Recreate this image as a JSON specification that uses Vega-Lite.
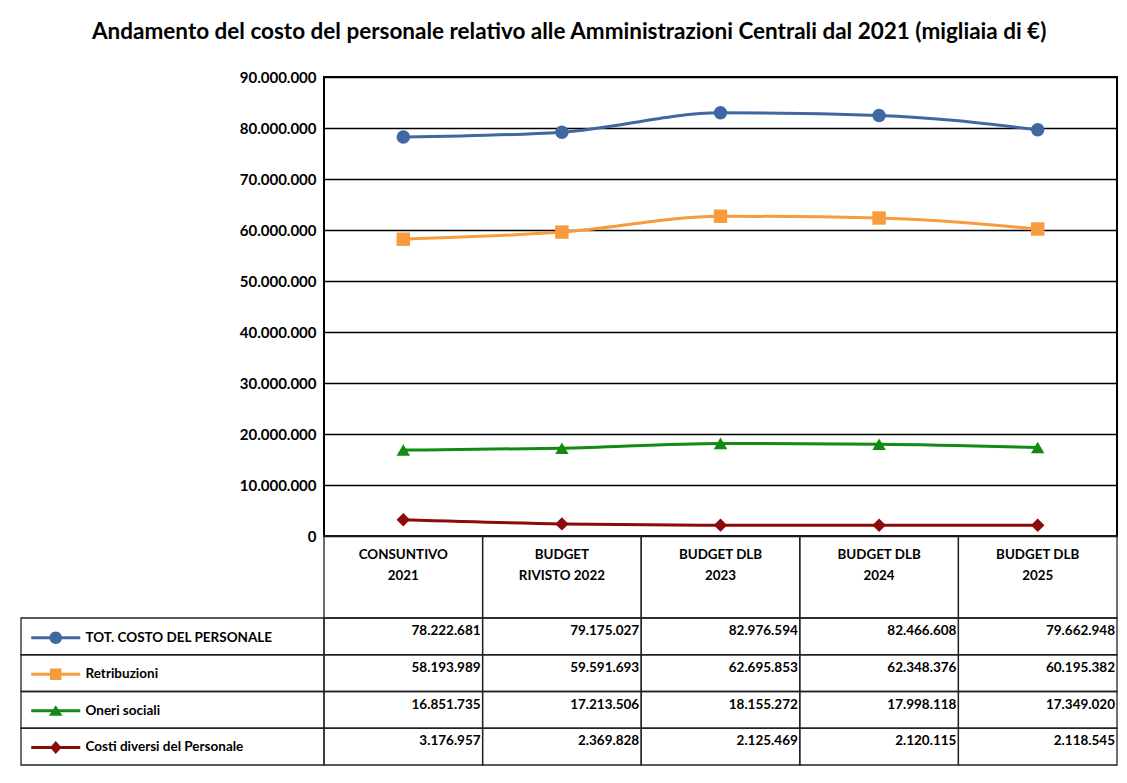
{
  "$schema": "https://vega.github.io/schema/vega-lite/v6.json",
  "padding": {"left": 20, "top": 20, "right": 5, "bottom": 5},
  "background": "white",
  "config": {
    "locale": {"number": {"decimal": ",", "thousands": ".", "grouping": [3], "currency": ["", " €"]}},
    "font": "Lato",
    "view": {"stroke": null}
  },
  "title": {
    "text": "Andamento del costo del personale relativo alle Amministrazioni Centrali dal 2021 (migliaia di €)",
    "fontSize": 22.5, "fontWeight": "bold", "font": "Lato", "color": "black", "anchor": "middle", "offset": 26
  },
  "datasets": {
    "costi": [
      {"cat": "CONSUNTIVO\n2021", "series": "TOT. COSTO DEL PERSONALE", "value": 78222681},
      {"cat": "BUDGET\nRIVISTO 2022", "series": "TOT. COSTO DEL PERSONALE", "value": 79175027},
      {"cat": "BUDGET DLB\n2023", "series": "TOT. COSTO DEL PERSONALE", "value": 82976594},
      {"cat": "BUDGET DLB\n2024", "series": "TOT. COSTO DEL PERSONALE", "value": 82466608},
      {"cat": "BUDGET DLB\n2025", "series": "TOT. COSTO DEL PERSONALE", "value": 79662948},
      {"cat": "CONSUNTIVO\n2021", "series": "Retribuzioni", "value": 58193989},
      {"cat": "BUDGET\nRIVISTO 2022", "series": "Retribuzioni", "value": 59591693},
      {"cat": "BUDGET DLB\n2023", "series": "Retribuzioni", "value": 62695853},
      {"cat": "BUDGET DLB\n2024", "series": "Retribuzioni", "value": 62348376},
      {"cat": "BUDGET DLB\n2025", "series": "Retribuzioni", "value": 60195382},
      {"cat": "CONSUNTIVO\n2021", "series": "Oneri sociali", "value": 16851735},
      {"cat": "BUDGET\nRIVISTO 2022", "series": "Oneri sociali", "value": 17213506},
      {"cat": "BUDGET DLB\n2023", "series": "Oneri sociali", "value": 18155272},
      {"cat": "BUDGET DLB\n2024", "series": "Oneri sociali", "value": 17998118},
      {"cat": "BUDGET DLB\n2025", "series": "Oneri sociali", "value": 17349020},
      {"cat": "CONSUNTIVO\n2021", "series": "Costi diversi del Personale", "value": 3176957},
      {"cat": "BUDGET\nRIVISTO 2022", "series": "Costi diversi del Personale", "value": 2369828},
      {"cat": "BUDGET DLB\n2023", "series": "Costi diversi del Personale", "value": 2125469},
      {"cat": "BUDGET DLB\n2024", "series": "Costi diversi del Personale", "value": 2120115},
      {"cat": "BUDGET DLB\n2025", "series": "Costi diversi del Personale", "value": 2118545}
    ]
  },
  "columns": 2,
  "spacing": 0,
  "bounds": "flush",
  "concat": [
    {
      "width": 303, "height": 459,
      "data": {"values": [{}]},
      "mark": {"type": "rect", "opacity": 0}
    },
    {
      "width": 793, "height": 459,
      "view": {"stroke": "black", "strokeWidth": 2},
      "data": {"name": "costi"},
      "encoding": {
        "x": {"field": "cat", "type": "nominal", "sort": null, "scale": {"type": "point", "padding": 0.5}, "axis": null},
        "y": {
          "field": "value", "type": "quantitative",
          "scale": {"domain": [0, 90000000], "nice": false},
          "axis": {
            "values": [0, 10000000, 20000000, 30000000, 40000000, 50000000, 60000000, 70000000, 80000000, 90000000],
            "format": ",d", "title": null, "domain": false, "ticks": false,
            "labelFontSize": 15, "labelFontWeight": "bold", "labelColor": "black", "labelPadding": 8,
            "grid": true, "gridColor": "black", "gridWidth": 1.5, "gridOpacity": 1
          }
        },
        "color": {
          "field": "series", "type": "nominal", "sort": null,
          "scale": {
            "domain": ["TOT. COSTO DEL PERSONALE", "Retribuzioni", "Oneri sociali", "Costi diversi del Personale"],
            "range": ["#3f68a0", "#f79b3c", "#138a13", "#8c0a0a"]
          },
          "legend": {
            "orient": "none", "legendX": 28, "legendY": 554, "title": null, "direction": "vertical",
            "padding": 0, "symbolSize": 169, "rowPadding": 21.55, "labelOffset": 23, "symbolOffset": 0,
            "labelFontSize": 13.5, "labelFontWeight": "bold", "labelColor": "black", "labelFont": "Lato", "labelLimit": 400,
            "encode": {
              "symbols": {
                "update": {
                  "shape": {"signal": "datum.value === 'TOT. COSTO DEL PERSONALE' ? 'M-3.77,-0.23H3.77V0.23H-3.77Z M-0.96,0A0.96,0.96 0 1,1 0.96,0A0.96,0.96 0 1,1 -0.96,0Z' : datum.value === 'Retribuzioni' ? 'M-3.77,-0.23H3.77V0.23H-3.77Z M-0.88,-0.88H0.88V0.88H-0.88Z' : datum.value === 'Oneri sociali' ? 'M-3.77,-0.23H3.77V0.23H-3.77Z M0,-0.85L1.04,0.75H-1.04Z' : 'M-3.77,-0.23H3.77V0.23H-3.77Z M0,-1L0.88,0L0,1L-0.88,0Z'"},
                  "fill": {"signal": "datum.value === 'TOT. COSTO DEL PERSONALE' ? '#3f68a0' : datum.value === 'Retribuzioni' ? '#f79b3c' : datum.value === 'Oneri sociali' ? '#138a13' : '#8c0a0a'"},
                  "stroke": {"value": "transparent"},
                  "strokeWidth": {"value": 0},
                  "opacity": {"value": 1}
                }
              }
            }
          }
        }
      },
      "layer": [
        {"mark": {"type": "line", "interpolate": "monotone", "strokeWidth": 3}},
        {
          "mark": {"type": "point", "filled": true, "opacity": 1, "size": 180},
          "encoding": {
            "shape": {
              "field": "series", "type": "nominal", "sort": null,
              "scale": {"range": ["circle", "square", "triangle-up", "diamond"]},
              "legend": null
            }
          }
        }
      ]
    },
    {
      "width": 303, "height": 82,
      "data": {"values": [{}]},
      "mark": {"type": "rect", "opacity": 0}
    },
    {
      "width": 793, "height": 82,
      "data": {"name": "costi"},
      "transform": [{"filter": {"field": "series", "equal": "TOT. COSTO DEL PERSONALE"}}],
      "encoding": {
        "x": {"field": "cat", "type": "nominal", "sort": null, "scale": {"type": "band", "paddingInner": 0, "paddingOuter": 0}, "axis": null}
      },
      "layer": [
        {"mark": {"type": "rect", "filled": false, "stroke": "#222", "strokeWidth": 1.3}},
        {
          "mark": {"type": "text", "fontSize": 13.4, "fontWeight": "bold", "color": "black", "lineBreak": "\n", "lineHeight": 21.5, "baseline": "alphabetic", "dy": -18.5},
          "encoding": {"text": {"field": "cat", "type": "nominal"}}
        }
      ]
    },
    {
      "width": 303, "height": 147,
      "data": {"name": "costi"},
      "transform": [{"filter": {"field": "cat", "equal": "CONSUNTIVO\n2021"}}],
      "mark": {"type": "rect", "filled": false, "stroke": "#222", "strokeWidth": 1.3},
      "encoding": {
        "y": {"field": "series", "type": "nominal", "sort": null, "scale": {"type": "band", "paddingInner": 0, "paddingOuter": 0}, "axis": null}
      }
    },
    {
      "width": 793, "height": 147,
      "data": {"name": "costi"},
      "encoding": {
        "x": {"field": "cat", "type": "nominal", "sort": null, "scale": {"type": "band", "paddingInner": 0, "paddingOuter": 0}, "axis": null},
        "y": {"field": "series", "type": "nominal", "sort": null, "scale": {"type": "band", "paddingInner": 0, "paddingOuter": 0}, "axis": null}
      },
      "layer": [
        {"mark": {"type": "rect", "filled": false, "stroke": "#222", "strokeWidth": 1.3}},
        {
          "mark": {"type": "text", "align": "right", "baseline": "alphabetic", "dx": -2, "dy": 17, "fontSize": 13.5, "fontWeight": "bold", "color": "black"},
          "encoding": {
            "x": {"field": "cat", "type": "nominal", "sort": null, "bandPosition": 1, "axis": null},
            "y": {"field": "series", "type": "nominal", "sort": null, "bandPosition": 0, "axis": null},
            "text": {"field": "value", "type": "quantitative", "format": ",d"}
          }
        }
      ]
    }
  ]
}
